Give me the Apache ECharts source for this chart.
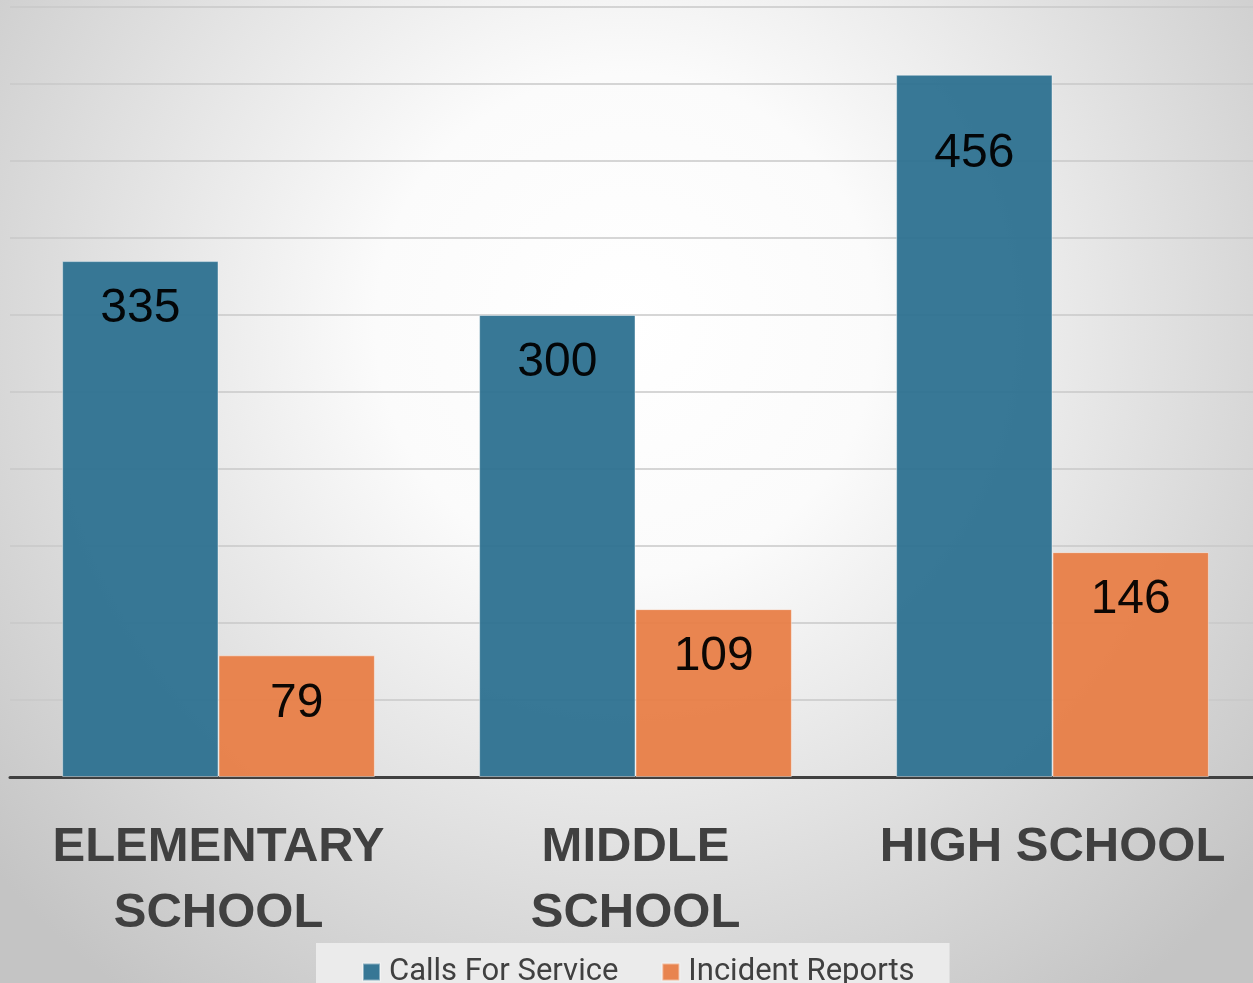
<!DOCTYPE html>
<html>
<head>
<meta charset="utf-8">
<title>Calls For Service and Incident Reports by School Level</title>
<script src="https://cdn.jsdelivr.net/npm/echarts@6/dist/echarts.min.js"></script>
<style>
  html, body { margin: 0; padding: 0; }
  #chart { width: 1253px; height: 983px; }
</style>
</head>
<body>
<div id="chart"></div>
<script>
// Categories and series values
const schoolLevels = ['ELEMENTARY\nSCHOOL', 'MIDDLE\nSCHOOL', 'HIGH SCHOOL'];
const callsForService = [335, 300, 456];
const incidentReports = [79, 109, 146];
const seriesNames = ['Calls For Service', 'Incident Reports'];

const BLUE = '#2d7190';
const ORANGE = '#e87e47';
const TEXT_DARK = '#404040';

const chart = echarts.init(document.getElementById('chart'), null, { renderer: 'canvas' });

const barLabel = {
  show: true,
  position: 'insideTop',
  distance: 24,
  color: '#000',
  fontFamily: 'Liberation Sans, Arial, sans-serif',
  fontSize: 48,
  lineHeight: 48
};

// The tallest bar carries its value a little lower inside the bar
const callsData = callsForService.map((v, i) =>
  i === callsForService.length - 1 ? { value: v, label: { distance: 55 } } : v
);

chart.setOption({
  backgroundColor: {
    type: 'radial', x: 0.5, y: 0.33, r: 0.85,
    colorStops: [
      { offset: 0, color: '#ffffff' },
      { offset: 0.3, color: '#fbfbfb' },
      { offset: 1, color: '#c4c4c4' }
    ]
  },
  animation: false,
  // the plot runs slightly past the right edge of the canvas
  grid: {
    left: 10, top: 7, width: 1251, height: 770,
    containLabel: false,
    outerBoundsMode: 'none'
  },
  legend: {
    data: seriesNames,
    left: 316,
    top: 943,
    padding: [13, 35, 12, 46],
    backgroundColor: '#ebebeb',
    itemWidth: 17,
    itemHeight: 17,
    itemGap: 43,
    icon: 'rect',
    textStyle: {
      color: TEXT_DARK,
      fontFamily: 'Roboto, sans-serif',
      fontSize: 31,
      lineHeight: 32,
      padding: [0, 0, 0, 4]
    }
  },
  xAxis: {
    type: 'category',
    data: schoolLevels,
    axisLine: { show: true, lineStyle: { color: TEXT_DARK, width: 3 } },
    axisTick: { show: false },
    axisLabel: {
      interval: 0,
      margin: 37,
      color: TEXT_DARK,
      fontFamily: 'Liberation Sans, Arial, sans-serif',
      fontWeight: 'bold',
      fontSize: 49,
      lineHeight: 66
    }
  },
  yAxis: {
    type: 'value',
    min: 0,
    max: 500,
    interval: 50,
    axisLabel: { show: false },
    axisLine: { show: false },
    axisTick: { show: false },
    splitLine: { show: true, lineStyle: { color: '#c9c9c9', width: 1.5 } }
  },
  series: [
    {
      name: seriesNames[0],
      type: 'bar',
      data: callsData,
      barGap: '0%',
      barCategoryGap: '25%',
      itemStyle: { color: BLUE, opacity: 0.95, borderColor: 'rgba(255,255,255,0.45)', borderWidth: 1 },
      label: barLabel
    },
    {
      name: seriesNames[1],
      type: 'bar',
      data: incidentReports,
      barGap: '0%',
      barCategoryGap: '25%',
      itemStyle: { color: ORANGE, opacity: 0.95, borderColor: 'rgba(255,255,255,0.45)', borderWidth: 1 },
      label: barLabel
    }
  ]
});
</script>
</body>
</html>
